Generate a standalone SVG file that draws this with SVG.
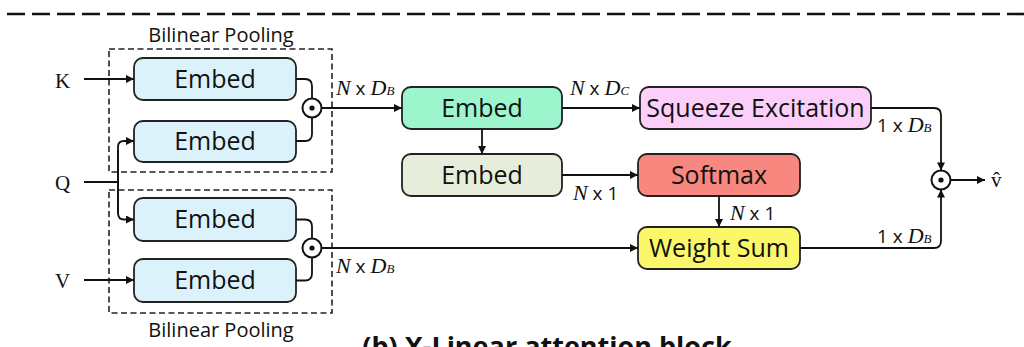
<svg xmlns="http://www.w3.org/2000/svg" width="1024" height="347" viewBox="0 0 1024 347">
<defs>
<marker id="ah" viewBox="0 0 10 10" refX="10" refY="5" markerWidth="9" markerHeight="8" markerUnits="userSpaceOnUse" orient="auto">
<path d="M0,0 L10,5 L0,10 z" fill="#111"/>
</marker>
</defs>
<style>
.box{stroke:#222;stroke-width:1.8}
.bt{font-family:"Open Sans",sans-serif;font-size:25px;fill:#111;text-anchor:middle}
.pool{fill:none;stroke:#222;stroke-width:1.6;stroke-dasharray:6 3.5}
.pt{font-family:"Open Sans",sans-serif;font-size:20px;fill:#111;text-anchor:middle}
.ln{fill:none;stroke:#111;stroke-width:1.8}
.arr{marker-end:url(#ah)}
.op{fill:#fff;stroke:#111;stroke-width:2}
.in{font-family:"Liberation Serif",serif;font-size:21px;fill:#111}
.lb{font-family:"Liberation Serif",serif;font-size:22px;fill:#111}
.it{font-style:italic}
.sn{font-family:"Open Sans",sans-serif;font-size:19px;font-style:normal}
.sb{font-size:13px;font-style:italic}
</style>
<rect width="1024" height="347" fill="#fff"/>
<line x1="7" y1="14" x2="1024" y2="14" stroke="#111" stroke-width="2.6" stroke-dasharray="18 7"/>

<g id="pool-top">
<rect class="pool" x="109" y="49" width="223" height="123"/>
<text class="pt" x="221" y="42">Bilinear Pooling</text>
</g>
<g id="pool-bottom">
<rect class="pool" x="109" y="190" width="223" height="123"/>
<text class="pt" x="221" y="337">Bilinear Pooling</text>
</g>

<g id="in-K"><text class="in" x="55" y="88">K</text></g>
<g id="in-Q"><text class="in" x="55" y="190">Q</text></g>
<g id="in-V"><text class="in" x="55" y="288">V</text></g>

<g id="embed-k"><rect class="box" x="134" y="58" width="162" height="42" rx="9" fill="#dcf2fb"/><text class="bt" x="215" y="88">Embed</text></g>
<g id="embed-q1"><rect class="box" x="134" y="121" width="162" height="41" rx="9" fill="#dcf2fb"/><text class="bt" x="215" y="150">Embed</text></g>
<g id="embed-q2"><rect class="box" x="134" y="198" width="162" height="43" rx="9" fill="#dcf2fb"/><text class="bt" x="215" y="228">Embed</text></g>
<g id="embed-v"><rect class="box" x="134" y="259" width="162" height="43" rx="9" fill="#dcf2fb"/><text class="bt" x="215" y="289">Embed</text></g>

<g id="embed-green"><rect class="box" x="402" y="87" width="160" height="42" rx="9" fill="#9cf5cd"/><text class="bt" x="482" y="117">Embed</text></g>
<g id="embed-beige"><rect class="box" x="402" y="154" width="160" height="42" rx="9" fill="#e6eedb"/><text class="bt" x="482" y="184">Embed</text></g>
<g id="squeeze"><rect class="box" x="640" y="87" width="231" height="42" rx="9" fill="#fbcffa"/><text class="bt" x="755.5" y="117">Squeeze Excitation</text></g>
<g id="softmax"><rect class="box" x="638" y="154" width="162" height="42" rx="9" fill="#f8877f"/><text class="bt" x="719" y="184">Softmax</text></g>
<g id="weightsum"><rect class="box" x="638" y="227" width="162" height="42" rx="9" fill="#faf86a"/><text class="bt" x="719" y="257">Weight Sum</text></g>

<g id="op-top"><circle class="op" cx="312" cy="108" r="9.5"/><circle cx="312" cy="108" r="2.6" fill="#111"/></g>
<g id="op-bottom"><circle class="op" cx="312" cy="248" r="9.5"/><circle cx="312" cy="248" r="2.6" fill="#111"/></g>
<g id="op-out"><circle class="op" cx="941" cy="180" r="9.5"/><circle cx="941" cy="180" r="2.6" fill="#111"/></g>
<g id="out-v"><text class="in" x="991" y="187">v̂</text></g>

<g id="connectors">
<line class="ln arr" x1="84" y1="79" x2="134" y2="79"/>
<path class="ln" d="M84,182 H118"/>
<path class="ln arr" d="M118,214 V147 Q118,141 124,141 H134"/>
<path class="ln arr" d="M118,150 V213 Q118,219.5 124,219.5 H134"/>
<line class="ln arr" x1="84" y1="280" x2="134" y2="280"/>
<path class="ln" d="M296,79 H305 Q312,79 312,86 V98.5"/>
<path class="ln" d="M296,141 H305 Q312,141 312,134 V117.5"/>
<path class="ln" d="M296,219.5 H305 Q312,219.5 312,226.5 V238.5"/>
<path class="ln" d="M296,280.5 H305 Q312,280.5 312,273.5 V257.5"/>
<line class="ln arr" x1="321.5" y1="108" x2="402" y2="108"/>
<line class="ln arr" x1="321.5" y1="248" x2="638" y2="248"/>
<line class="ln arr" x1="482" y1="129" x2="482" y2="154"/>
<line class="ln arr" x1="562" y1="108" x2="640" y2="108"/>
<line class="ln arr" x1="562" y1="175" x2="638" y2="175"/>
<line class="ln arr" x1="719" y1="196" x2="719" y2="227"/>
<path class="ln arr" d="M871,108 H934 Q941,108 941,115 V170.5"/>
<path class="ln arr" d="M800,248 H934 Q941,248 941,241 V189.5"/>
<line class="ln arr" x1="950.5" y1="180" x2="985" y2="180"/>

<text class="lb" x="336" y="95"><tspan class="it">N</tspan><tspan class="sn"> x </tspan><tspan class="it">D</tspan><tspan class="sb">B</tspan></text>
<text class="lb" x="336" y="273"><tspan class="it">N</tspan><tspan class="sn"> x </tspan><tspan class="it">D</tspan><tspan class="sb">B</tspan></text>
<text class="lb" x="570" y="95"><tspan class="it">N</tspan><tspan class="sn"> x </tspan><tspan class="it">D</tspan><tspan class="sb">C</tspan></text>
<text class="lb" x="573" y="200"><tspan class="it">N</tspan><tspan class="sn"> x 1</tspan></text>
<text class="lb" x="730" y="220"><tspan class="it">N</tspan><tspan class="sn"> x 1</tspan></text>
<text class="lb" x="877" y="132"><tspan class="sn">1 x </tspan><tspan class="it">D</tspan><tspan class="sb">B</tspan></text>
<text class="lb" x="877" y="243"><tspan class="sn">1 x </tspan><tspan class="it">D</tspan><tspan class="sb">B</tspan></text>
</g>

<text x="547" y="356" font-family="'Open Sans',sans-serif" font-weight="bold" font-size="27" fill="#111" text-anchor="middle">(b) X-Linear attention block</text>
</svg>
